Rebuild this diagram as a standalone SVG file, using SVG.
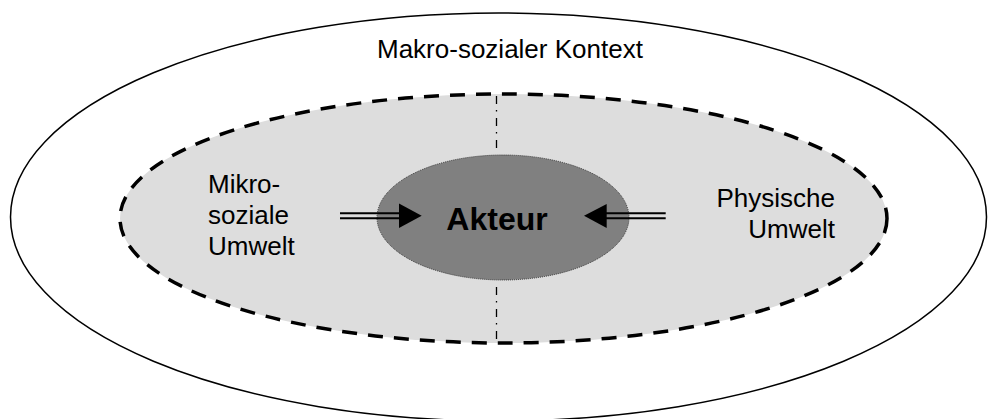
<svg xmlns="http://www.w3.org/2000/svg" width="988" height="419" viewBox="0 0 988 419">
  <defs>
    <style>
      .lbl { font-family: "Liberation Sans", Arial, sans-serif; font-size: 26px; fill: #000; }
      .bold { font-family: "Liberation Sans", Arial, sans-serif; font-size: 32px; font-weight: bold; fill: #000; }
      .dbl { stroke: #000; stroke-width: 2; fill: none; }
      .axis { stroke: #000; stroke-width: 1.3; fill: none; stroke-dasharray: 8 6 1.5 6.5; }
    </style>
  </defs>
  <rect width="988" height="419" fill="#ffffff"/>
  <g id="makro">
    <ellipse cx="498.5" cy="217" rx="488" ry="204" fill="none" stroke="#000" stroke-width="1.5"/>
    <text class="lbl" x="377" y="58">Makro-sozialer Kontext</text>
  </g>
  <g id="mikro-physisch">
    <ellipse cx="503.5" cy="218.5" rx="383.5" ry="124.5" fill="#dddddd" stroke="#000" stroke-width="3.5" stroke-dasharray="15 11"/>
  </g>
  <g id="connectors">
    <line class="axis" x1="496.5" y1="96" x2="496.5" y2="152"/>
    <line class="axis" x1="496.5" y1="287" x2="496.5" y2="342"/>
  </g>
  <g id="akteur">
    <ellipse cx="503" cy="217.5" rx="126" ry="62.5" fill="#808080" stroke="#333" stroke-width="1" stroke-dasharray="1 1"/>
    <text class="bold" x="497" y="229.5" text-anchor="middle">Akteur</text>
  </g>
  <g id="mikro-label">
    <text class="lbl" x="208" y="193">Mikro-</text>
    <text class="lbl" x="208" y="224">soziale</text>
    <text class="lbl" x="208" y="255">Umwelt</text>
  </g>
  <g id="physisch-label">
    <text class="lbl" x="835" y="207" text-anchor="end">Physische</text>
    <text class="lbl" x="835" y="238" text-anchor="end">Umwelt</text>
  </g>
  <g id="arrows">
    <line class="dbl" x1="340" y1="213.3" x2="402" y2="213.3"/>
    <line class="dbl" x1="340" y1="218.3" x2="402" y2="218.3"/>
    <polygon points="399,203.5 421.7,215.8 399,228" fill="#000"/>
    <line class="dbl" x1="604" y1="213.3" x2="665.7" y2="213.3"/>
    <line class="dbl" x1="604" y1="218.3" x2="665.7" y2="218.3"/>
    <polygon points="606.7,204 584,215.8 606.7,228" fill="#000"/>
  </g>
</svg>
